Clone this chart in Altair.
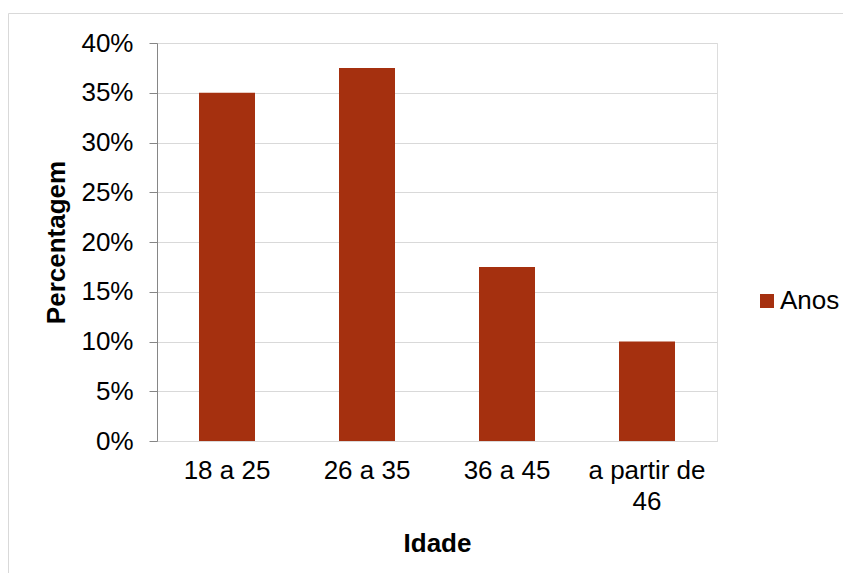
import altair as alt
import pandas as pd

categories = ["18 a 25", "26 a 35", "36 a 45", "a partir de 46"]
values = [0.35, 0.375, 0.175, 0.10]
series_name = "Anos"
y_ticks = [0, 0.05, 0.10, 0.15, 0.20, 0.25, 0.30, 0.35, 0.40]

df = pd.DataFrame({"Idade": categories, "Percentagem": values, "Serie": [series_name] * len(categories)})

FONT = "Liberation Sans"
BAR = "#A5300F"

bars = alt.Chart(df).mark_bar(color=BAR).encode(
    x=alt.X("Idade:N", sort=categories,
            scale=alt.Scale(paddingInner=0.6, paddingOuter=0.3),
            axis=alt.Axis(title="Idade", labelAngle=0, ticks=False,
                          domainColor="#D9D9D9", domainWidth=1,
                          labelFontSize=26, labelFont=FONT, labelColor="#000000",
                          labelPadding=16, labelLineHeight=31,
                          labelExpr="datum.value == 'a partir de 46' ? ['a partir de', '46'] : datum.label",
                          titleFontSize=26, titleFont=FONT, titleFontWeight="bold", titleColor="#000000",
                          titleY=110, titleBaseline="alphabetic")),
    y=alt.Y("Percentagem:Q",
            scale=alt.Scale(domain=[0, 0.4], nice=False),
            axis=alt.Axis(title="Percentagem", values=y_ticks, format=".0%",
                          grid=True, gridColor="#D9D9D9", gridWidth=1,
                          domainColor="#868686", tickColor="#868686", tickSize=8,
                          labelFontSize=26, labelFont=FONT, labelColor="#000000", labelPadding=16,
                          titleFontSize=26, titleFont=FONT, titleFontWeight="bold", titleColor="#000000",
                          titleX=-93, titleY=199, titleAngle=-90, titleBaseline="alphabetic",
                          titleAlign="center")),
    color=alt.Color("Serie:N", scale=alt.Scale(range=[BAR]),
                    legend=alt.Legend(title=None, orient="none", legendX=597, legendY=245,
                                      symbolType="square", symbolSize=196, symbolStrokeWidth=0,
                                      labelFontSize=26, labelFont=FONT, labelColor="#000000",
                                      labelOffset=0)),
)

border = alt.Chart(alt.Data(values=[{"a": 1}])).mark_rect(
    fill=None, stroke="#D9D9D9", strokeWidth=1
).encode(
    x=alt.value(-148.5), x2=alt.value(720), y=alt.value(-29.5), y2=alt.value(560)
)

chart = alt.layer(border, bars).properties(
    width=560, height=398,
    autosize=alt.AutoSizeParams(type="none"),
    padding={"left": 149, "top": 35, "right": 126, "bottom": 132},
).configure_view(stroke=None).configure(background="white")

chart.save("out.html", embed_options={"renderer": "svg", "actions": False})
